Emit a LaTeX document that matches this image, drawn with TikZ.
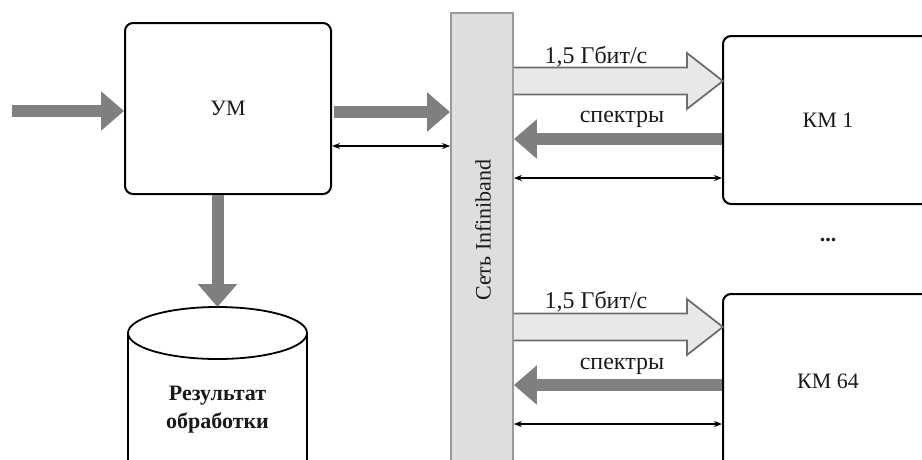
\documentclass[tikz,border=0pt]{standalone}
\usepackage{fontspec}
\setmainfont{Liberation Serif}
\usetikzlibrary{arrows.meta,calc}
\definecolor{fatgray}{HTML}{7F7F7F}
\definecolor{hollowedge}{HTML}{6E6E6E}
\definecolor{hollowfill}{HTML}{E8E8E8}
\definecolor{busfill}{HTML}{DEDEDE}
\definecolor{busedge}{HTML}{9A9A9A}
\definecolor{txt}{HTML}{1A1A1A}
\begin{document}
\begin{tikzpicture}[x=1pt,y=-1pt,
  lbl/.style={font=\fontsize{22}{28}\selectfont, text=txt, inner sep=0pt},
  biglbl/.style={font=\fontsize{24}{28}\selectfont, text=txt, inner sep=0pt},
  box/.style={draw=black, line width=2pt, rounded corners=8pt, fill=white, inner sep=0pt, lbl},
  fat/.style={draw=fatgray, line width=12pt, -{Triangle[length=23pt,width=38pt]}},
  thinarr/.style={draw=black, line width=1.1pt, {Stealth[length=8pt,width=6pt]}-{Stealth[length=8pt,width=6pt]}},
  hollow/.style={draw=hollowedge, fill=hollowfill, line width=1.8pt, line join=miter},
  hollowarr/.pic={\draw[hollow] (0,-13.5) -- (173,-13.5) -- (173,-28) -- (209,0) -- (173,28) -- (173,13.5) -- (0,13.5);}
]
\useasboundingbox (0,0) rectangle (922,459);
\clip (0,0) rectangle (922,459);

% nodes
\node[box, minimum width=206pt, minimum height=171pt] (um) at (228,108.5) {УМ};
\node[draw=busedge, fill=busfill, line width=1.8pt, minimum width=62pt, minimum height=470pt] (bus) at (482,248) {};
\node[lbl, rotate=90] (bustxt) at (483,230) {Сеть Infiniband};
\node[box, minimum width=210pt, minimum height=168pt] (km1) at (828,120) {КМ 1};
\node[box, minimum width=210pt, minimum height=180pt] (km64) at (828,384) {};
\node[lbl] (km64txt) at (828,381) {КМ 64};
\node[lbl, font=\fontsize{22}{28}\selectfont\bfseries] (dots) at (828,240) {...};

% database cylinder
\coordinate (dbtop) at (217.5,307);
\draw[line width=1.8pt, fill=white] (128,333) -- (128,480) -- (307,480) -- (307,333);
\draw[line width=1.8pt, fill=white] (217.5,333) ellipse [x radius=89.5, y radius=26];
\node[lbl, font=\fontsize{22}{28}\selectfont\bfseries, align=center] (db) at (217.5,410) {Результат\\обработки};

% left side connectors
\coordinate (in) at (12,111);
\draw[fat] (in) -- (in -| um.west);
\coordinate (o1) at (334,112);
\draw[fat] (o1) -- (o1 -| bus.west);
\draw[thinarr] (um.east |- 0,146) -- (bus.west |- 0,146);
\draw[fat] (um.south -| dbtop) -- (dbtop);

% KM 1
\pic at (bus.east |- 0,81) {hollowarr};
\node[biglbl] (r1) at (596,57) {1,5 Гбит/с};
\draw[fat] (km1.west |- 0,139) -- (bus.east |- 0,139);
\node[biglbl] (s1) at (622,119) {спектры};
\draw[thinarr] (bus.east |- 0,178) -- (km1.west |- 0,178);

% KM 64
\pic at (bus.east |- 0,327) {hollowarr};
\node[biglbl] (r64) at (596,302) {1,5 Гбит/с};
\draw[fat] (km64.west |- 0,385) -- (bus.east |- 0,385);
\node[biglbl] (s64) at (622,366) {спектры};
\draw[thinarr] (bus.east |- 0,424) -- (km64.west |- 0,424);
\end{tikzpicture}
\end{document}
